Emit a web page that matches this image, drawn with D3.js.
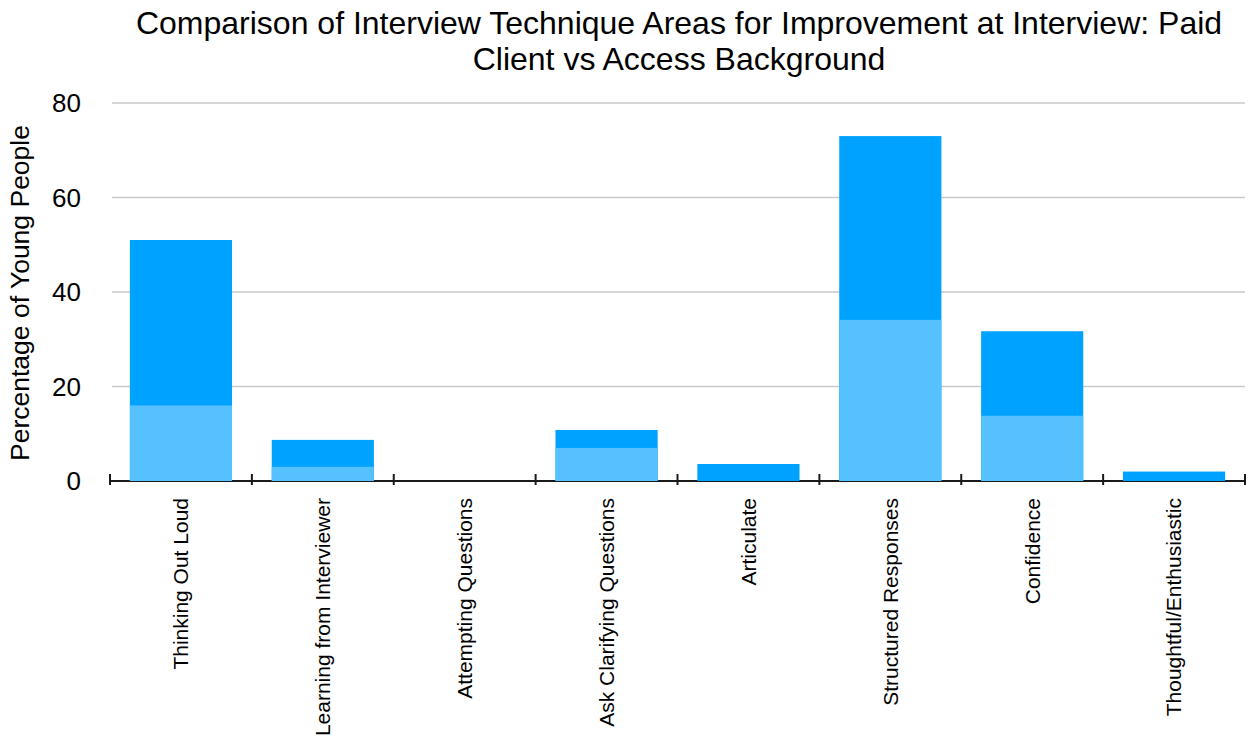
<!DOCTYPE html>
<html>
<head>
<meta charset="utf-8">
<script src="https://cdn.jsdelivr.net/npm/d3@7"></script>
<style>
  body { margin: 0; background: #fff; }
  text { font-family: "Liberation Sans", Arial, Helvetica, sans-serif; fill: #000; }
</style>
</head>
<body>
<svg width="1248" height="742"></svg>
<script>
// categories and values
var categories = ["Thinking Out Loud", "Learning from Interviewer", "Attempting Questions",
  "Ask Clarifying Questions", "Articulate", "Structured Responses", "Confidence",
  "Thoughtful/Enthusiastic"];
var paidClient = [51, 8.7, 0, 10.8, 3.6, 73, 31.7, 2];        // dark bars
var accessBackground = [16, 3, 0, 7, 0, 34.1, 13.8, 0];        // light bars
var yTicks = [0, 20, 40, 60, 80];
var titleLines = ["Comparison of Interview Technique Areas for Improvement at Interview: Paid",
  "Client vs Access Background"];
var yTitle = "Percentage of Young People";

var svg = d3.select("svg");
var pLeft = 110, pRight = 1245, pTop = 103, pBottom = 481;

var x = d3.scaleBand()
  .domain(categories)
  .range([pLeft, pRight])
  .paddingInner(0.28)
  .paddingOuter(0.14);

var y = d3.scaleLinear()
  .domain([0, 80])
  .range([pBottom, pTop]);

// gridlines
svg.append("g")
  .selectAll("line")
  .data(yTicks.filter(function(d) { return d > 0; }))
  .enter()
  .append("line")
  .attr("x1", 112)
  .attr("x2", pRight)
  .attr("y1", function(d) { return y(d); })
  .attr("y2", function(d) { return y(d); })
  .style("stroke", "#c9c9c9")
  .style("stroke-width", "1.3px");

// y tick labels
svg.append("g")
  .selectAll("text")
  .data(yTicks)
  .enter()
  .append("text")
  .attr("x", 81)
  .attr("y", function(d) { return y(d); })
  .attr("dy", "0.36em")
  .attr("text-anchor", "end")
  .style("font-size", "26px")
  .text(function(d) { return d; });

// x axis line and ticks
var xAxis = svg.append("g");
xAxis.append("line")
  .attr("x1", pLeft).attr("x2", pRight + 1)
  .attr("y1", pBottom).attr("y2", pBottom)
  .style("stroke", "#1a1a1a")
  .style("stroke-width", "2.2px");
var edges = categories.map(function(c) { return x(c) - x.step() * x.paddingInner() / 2; });
edges.push(pRight);
xAxis.selectAll("line.tick")
  .data(edges)
  .enter()
  .append("line")
  .attr("class", "tick")
  .attr("x1", function(d) { return d; })
  .attr("x2", function(d) { return d; })
  .attr("y1", pBottom - 7)
  .attr("y2", pBottom + 4)
  .style("stroke", "#1a1a1a")
  .style("stroke-width", "2px");

// bars: paid client (dark) behind, access background (light) in front
svg.append("g")
  .selectAll("rect")
  .data(categories)
  .enter()
  .append("rect")
  .attr("x", function(d) { return x(d); })
  .attr("width", x.bandwidth())
  .attr("y", function(d, i) { return y(paidClient[i]); })
  .attr("height", function(d, i) { return y(0) - y(paidClient[i]); })
  .style("fill", "#00a2ff");

svg.append("g")
  .selectAll("rect")
  .data(categories)
  .enter()
  .append("rect")
  .attr("x", function(d) { return x(d); })
  .attr("width", x.bandwidth())
  .attr("y", function(d, i) { return y(accessBackground[i]); })
  .attr("height", function(d, i) { return y(0) - y(accessBackground[i]); })
  .style("fill", "#56c1ff");

// x labels, rotated
svg.append("g")
  .selectAll("text")
  .data(categories)
  .enter()
  .append("text")
  .attr("transform", function(d) {
    return "translate(" + (x(d) + x.bandwidth() / 2) + "," + 498 + ") rotate(-90)";
  })
  .attr("dy", "0.35em")
  .attr("text-anchor", "end")
  .style("font-size", "21px")
  .text(function(d) { return d; });

// y title
svg.append("text")
  .attr("transform", "translate(20," + 293 + ") rotate(-90)")
  .attr("dy", "0.35em")
  .attr("text-anchor", "middle")
  .style("font-size", "26.5px")
  .text(yTitle);

// title
svg.append("g")
  .selectAll("text")
  .data(titleLines)
  .enter()
  .append("text")
  .attr("x", 679)
  .attr("y", function(d, i) { return 34 + i * 36; })
  .attr("text-anchor", "middle")
  .style("font-size", "32px")
  .text(function(d) { return d; });
</script>
</body>
</html>
